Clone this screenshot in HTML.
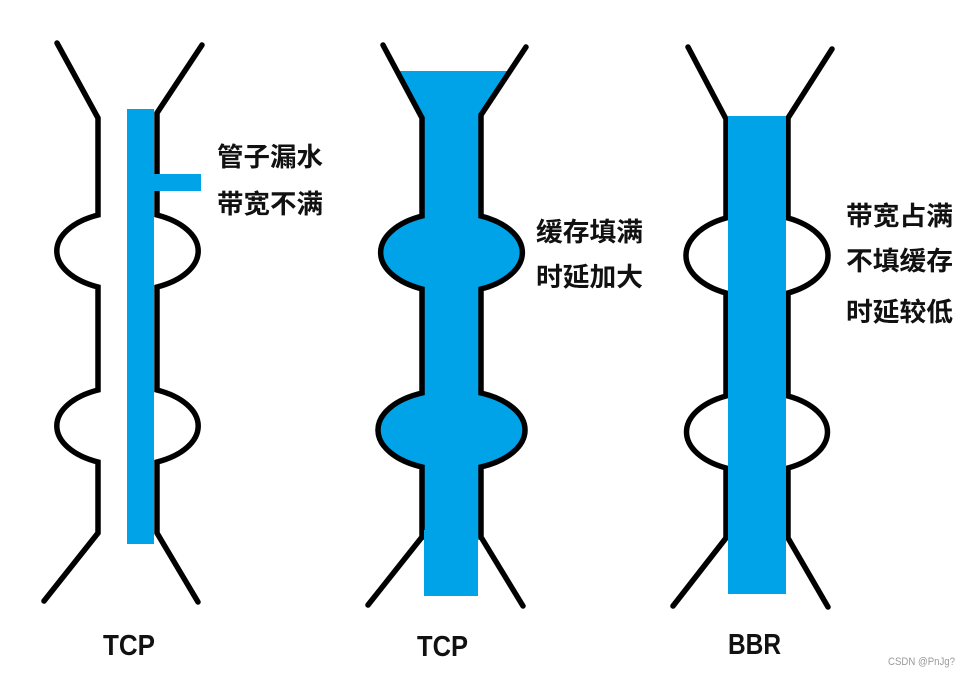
<!DOCTYPE html>
<html>
<head>
<meta charset="utf-8">
<style>
  html, body { margin:0; padding:0; background:#fff; }
  body { width:970px; height:676px; overflow:hidden; }
  svg { display:block; }
  .cjk { font-family: "Liberation Sans", "Noto Sans CJK SC", "WenQuanYi Zen Hei", sans-serif; font-weight:bold; font-size:26px; fill:#111; }
  .lbl { font-family: "Liberation Sans", sans-serif; font-weight:bold; font-size:29px; fill:#111; }
  .wm { font-family: "Liberation Sans", sans-serif; font-size:11px; fill:#9a9a9a; }
</style>
</head>
<body>
<svg width="970" height="676" viewBox="0 0 970 676" xmlns="http://www.w3.org/2000/svg">
  <rect width="970" height="676" fill="#fff"/>

  <!-- ===== LEFT PIPE (TCP leaking) ===== -->
  <g fill="none" stroke="#000" stroke-width="5.5" stroke-linecap="round" stroke-linejoin="miter">
    <path d="M57,43 L98,118 L98,215 A70,39.5 0 0 0 98,287 L98,390 A70,39.5 0 0 0 98,462 L98,533 L44,601"/>
    <path d="M202,45 L157,113 L157,215 A70,39.5 0 0 1 157,287 L157,390 A70,39.5 0 0 1 157,462 L157,533 L198,602"/>
  </g>
  <rect x="127" y="109" width="27" height="435" fill="#00a2e8"/>
  <rect x="154" y="174" width="47" height="17" fill="#00a2e8"/>

  <!-- ===== MIDDLE PIPE (TCP buffer filled) ===== -->
  <path d="M397,71 L510,71 L481,115 L481,216 A70,40 0 0 1 481,289 L481,393 A71,40 0 0 1 481,467 L481,540 L422,540 L422,467 A71,40 0 0 1 422,393 L422,289 A70,40 0 0 1 422,216 L422,118 Z" fill="#00a2e8"/>
  <g fill="none" stroke="#000" stroke-width="5.5" stroke-linecap="round" stroke-linejoin="miter">
    <path d="M383,45 L422,118 L422,216 A70,40 0 0 0 422,289 L422,393 A71,40 0 0 0 422,467 L422,537 L368,605"/>
    <path d="M526,47 L481,115 L481,216 A70,40 0 0 1 481,289 L481,393 A71,40 0 0 1 481,467 L481,537 L523,606"/>
  </g>
  <rect x="424" y="530" width="54" height="66" fill="#00a2e8"/>

  <!-- ===== RIGHT PIPE (BBR) ===== -->
  <g fill="none" stroke="#000" stroke-width="5.5" stroke-linecap="round" stroke-linejoin="miter">
    <path d="M688,47 L726,119 L726,218 A70,41.5 0 0 0 726,293 L726,396 A70,40 0 0 0 726,468 L726,538 L673,606"/>
    <path d="M832,49 L788,118 L788,218 A70,41.5 0 0 1 788,293 L788,396 A70,40 0 0 1 788,468 L788,538 L828,607"/>
  </g>
  <rect x="728" y="116" width="58" height="478" fill="#00a2e8"/>

  <!-- ===== TEXT ===== -->
  <text class="cjk" x="217" y="166" textLength="106" lengthAdjust="spacingAndGlyphs">管子漏水</text>
  <text class="cjk" x="217" y="213" textLength="106" lengthAdjust="spacingAndGlyphs">带宽不满</text>

  <text class="cjk" x="536" y="241" textLength="107" lengthAdjust="spacingAndGlyphs">缓存填满</text>
  <text class="cjk" x="536" y="286" textLength="107" lengthAdjust="spacingAndGlyphs">时延加大</text>

  <text class="cjk" x="846" y="225" textLength="107" lengthAdjust="spacingAndGlyphs">带宽占满</text>
  <text class="cjk" x="846" y="270" textLength="107" lengthAdjust="spacingAndGlyphs">不填缓存</text>
  <text class="cjk" x="846" y="321" textLength="107" lengthAdjust="spacingAndGlyphs">时延较低</text>

  <text class="lbl" x="103" y="655" textLength="52" lengthAdjust="spacingAndGlyphs">TCP</text>
  <text class="lbl" x="417" y="656" textLength="51" lengthAdjust="spacingAndGlyphs">TCP</text>
  <text class="lbl" x="728" y="654" textLength="53" lengthAdjust="spacingAndGlyphs">BBR</text>

  <text class="wm" x="888" y="665" textLength="67" lengthAdjust="spacingAndGlyphs">CSDN @PnJg?</text>
</svg>
</body>
</html>
